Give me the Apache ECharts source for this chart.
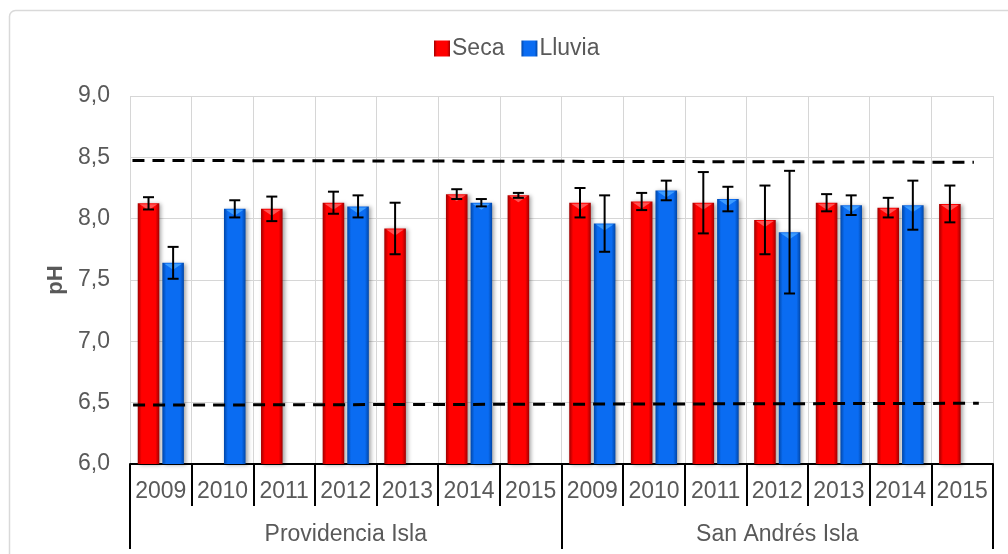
<!DOCTYPE html>
<html>
<head>
<meta charset="utf-8">
<script src="https://cdn.jsdelivr.net/npm/echarts@6/dist/echarts.min.js"></script>
<style>
html,body{margin:0;padding:0;background:#fff;}
#chart{width:1008px;height:554px;}
</style>
</head>
<body>
<div id="chart"></div>
<script>
// ---- data ----
var years = ['2009','2010','2011','2012','2013','2014','2015','2009','2010','2011','2012','2013','2014','2015'];
var islands = ['Providencia Isla','San Andrés Isla'];
var seca      = [8.125, null, 8.08, 8.13, 7.92, 8.20, 8.19, 8.13, 8.14, 8.13, 7.99, 8.13, 8.09, 8.12];
var secaErr   = [0.05,  null, 0.10, 0.09, 0.21, 0.04, 0.02, 0.12, 0.07, 0.25, 0.28, 0.07, 0.08, 0.15];
var lluvia    = [7.64, 8.08, null, 8.10, null, 8.13, null, 7.96, 8.23, 8.16, 7.89, 8.11, 8.11, null];
var lluviaErr = [0.13, 0.07, null, 0.09, null, 0.03, null, 0.23, 0.08, 0.10, 0.50, 0.08, 0.20, null];
var yTicks = [6.0, 6.5, 7.0, 7.5, 8.0, 8.5, 9.0];
var upperLimit = [[0.04, 8.475], [13.69, 8.46]];
var lowerLimit = [[0.05, 6.48], [13.77, 6.495]];

var FONT = '"Liberation Sans", Arial, sans-serif';
var TXT = '#595959';
var BAR_W = 0.35, BAR_GAP = 0.14;

function grad(edge, mid) {
  return new echarts.graphic.LinearGradient(0, 0, 1, 0, [
    {offset: 0, color: edge}, {offset: 0.18, color: mid},
    {offset: 0.82, color: mid}, {offset: 1, color: edge}
  ]);
}
var redGrad = grad('#a00000', '#ff0000');
var blueGrad = grad('#0046a8', '#0a6cf2');

function toData(arr) { return arr.map(function (v) { return v == null ? '-' : v; }); }
function errData(vals, errs) {
  var out = [];
  vals.forEach(function (v, i) { if (v != null) out.push([i, v, errs[i]]); });
  return out;
}
function barOffset(api, side) {
  var band = api.size([1, 0])[0];
  var w = band * BAR_W, g = w * BAR_GAP;
  return {off: side * (w + g) / 2, w: w};
}
function errRender(side) {
  return function (params, api) {
    var idx = api.value(0), v = api.value(1), e = api.value(2);
    var o = barOffset(api, side);
    var top = api.coord([idx, v + e]);
    var bot = api.coord([idx, v - e]);
    var x = top[0] + o.off;
    var cap = 5.5;
    var st = {stroke: '#000', lineWidth: 2};
    return {type: 'group', children: [
      {type: 'line', shape: {x1: x, y1: top[1], x2: x, y2: bot[1]}, style: st},
      {type: 'line', shape: {x1: x - cap, y1: top[1], x2: x + cap, y2: top[1]}, style: st},
      {type: 'line', shape: {x1: x - cap, y1: bot[1], x2: x + cap, y2: bot[1]}, style: st}
    ]};
  };
}
function bevelRender(side, color) {
  return function (params, api) {
    var idx = api.value(0), v = api.value(1);
    var o = barOffset(api, side);
    var p = api.coord([idx, v]);
    var x = p[0] + o.off, y = p[1];
    var hw = o.w / 2 - 2;
    return {type: 'polygon', shape: {points: [[x - hw, y + 1], [x + hw, y + 1], [x, y + 7]]},
      style: {fill: color}};
  };
}

var chart = echarts.init(document.getElementById('chart'), null, {renderer: 'canvas'});
var barShadow = {shadowBlur: 4, shadowColor: 'rgba(0,0,0,0.35)', shadowOffsetX: 2, shadowOffsetY: 1};

chart.setOption({
  animation: false,
  backgroundColor: '#fff',
  textStyle: {fontFamily: FONT},
  graphic: [{
    type: 'rect', left: 7, top: 8, shape: {width: 1010, height: 560, r: 6},
    style: {fill: 'none', stroke: '#d9d9d9', lineWidth: 1.5}, silent: true, z: -1
  }],
  legend: {
    top: 32, left: 429, itemWidth: 16, itemHeight: 16, itemGap: 17,
    icon: 'rect',
    textStyle: {fontSize: 23, color: TXT, fontFamily: FONT, padding: [0, 0, 0, -3]},
    data: ['Seca', 'Lluvia']
  },
  grid: {left: 130, right: 15, top: 96, bottom: 90, containLabel: false},
  xAxis: [{
    type: 'category', data: years, position: 'bottom',
    axisLine: {show: true, lineStyle: {color: '#000', width: 2}},
    axisTick: {show: true, interval: 0, length: 42, lineStyle: {color: '#000', width: 2}},
    axisLabel: {interval: 0, fontSize: 23, color: TXT, margin: 16, fontFamily: FONT},
    splitLine: {show: true, interval: 0, lineStyle: {color: '#d6d6d6', width: 1}}
  }, {
    type: 'category', data: islands, position: 'bottom',
    axisLine: {show: false},
    axisTick: {show: true, interval: 0, length: 85, lineStyle: {color: '#000', width: 2}},
    axisLabel: {interval: 0, fontSize: 23, color: TXT, margin: 59, fontFamily: FONT},
    splitLine: {show: false}
  }, {
    type: 'value', min: 0, max: 14, show: false
  }],
  yAxis: {
    type: 'value', min: yTicks[0], max: yTicks[yTicks.length - 1], interval: 0.5,
    name: 'pH', nameLocation: 'middle', nameGap: 62, nameRotate: 90,
    nameTextStyle: {fontSize: 22, fontWeight: 'bold', color: TXT, fontFamily: FONT},
    axisLine: {show: false}, axisTick: {show: false},
    axisLabel: {fontSize: 23, color: TXT, margin: 20, fontFamily: FONT,
      formatter: function (v) { return v.toFixed(1).replace('.', ','); }},
    splitLine: {show: true, lineStyle: {color: '#d6d6d6', width: 1}}
  },
  series: [{
    name: 'Seca', type: 'bar', xAxisIndex: 0, data: toData(seca),
    barWidth: (BAR_W * 100) + '%', barGap: (BAR_GAP * 100) + '%',
    itemStyle: Object.assign({color: redGrad}, barShadow), z: 2
  }, {
    name: 'Lluvia', type: 'bar', xAxisIndex: 0, data: toData(lluvia),
    barWidth: (BAR_W * 100) + '%', barGap: (BAR_GAP * 100) + '%',
    itemStyle: Object.assign({color: blueGrad}, barShadow), z: 2
  }, {
    type: 'custom', xAxisIndex: 0, renderItem: bevelRender(-1, '#ff5252'),
    data: errData(seca, secaErr), z: 3, silent: true
  }, {
    type: 'custom', xAxisIndex: 0, renderItem: bevelRender(1, '#3d9cff'),
    data: errData(lluvia, lluviaErr), z: 3, silent: true
  }, {
    type: 'custom', xAxisIndex: 0, renderItem: errRender(-1),
    data: errData(seca, secaErr), z: 5, silent: true
  }, {
    type: 'custom', xAxisIndex: 0, renderItem: errRender(1),
    data: errData(lluvia, lluviaErr), z: 5, silent: true
  }, {
    type: 'line', xAxisIndex: 2, data: upperLimit, symbol: 'none', silent: true,
    lineStyle: {color: '#000', width: 3, type: [12, 8]}, z: 6
  }, {
    type: 'line', xAxisIndex: 2, data: lowerLimit, symbol: 'none', silent: true,
    lineStyle: {color: '#000', width: 3, type: [12, 8]}, z: 6
  }]
});
</script>
</body>
</html>
